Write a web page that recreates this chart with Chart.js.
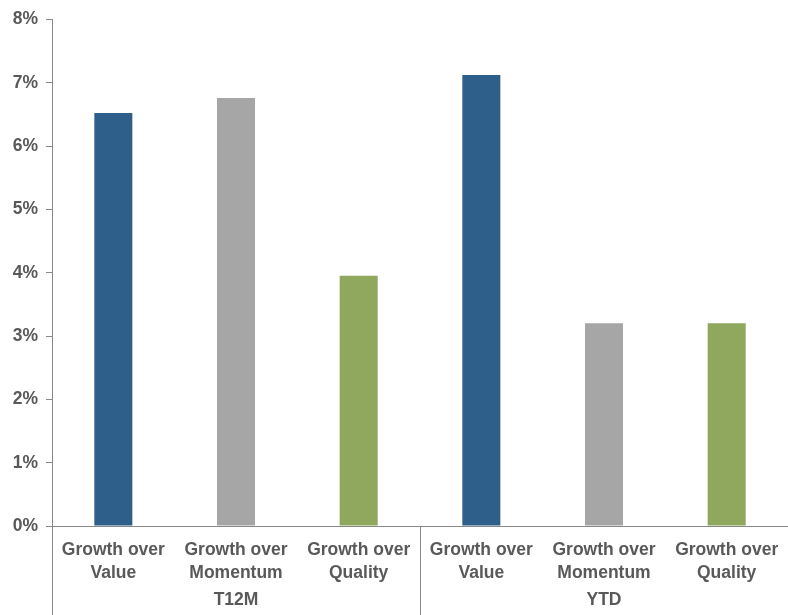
<!DOCTYPE html>
<html>
<head>
<meta charset="utf-8">
<script src="https://cdn.jsdelivr.net/npm/chart.js@4"></script>
<style>
  html, body { margin: 0; padding: 0; background: #fff; }
  #wrap { width: 788px; height: 615px; position: relative; }
</style>
</head>
<body>
<div id="wrap"><canvas id="chart"></canvas></div>
<script>
const categories = [
  ["Growth over", "Value"], ["Growth over", "Momentum"], ["Growth over", "Quality"],
  ["Growth over", "Value"], ["Growth over", "Momentum"], ["Growth over", "Quality"]
];
const groups = ["T12M", "YTD"];
const values = [6.52, 6.76, 3.95, 7.12, 3.2, 3.2]; // percent
const barColors = ["#2E5F8A", "#A6A6A6", "#8FA85E", "#2E5F8A", "#A6A6A6", "#8FA85E"];

const axisColor = "#898989";
const textColor = "#595959";
const font = { family: "'Liberation Sans', Arial, sans-serif", size: 17.5, weight: "bold", lineHeight: 1.3 };

// group labels + separator lines under the x axis
const groupPlugin = {
  id: "groups",
  afterDraw(chart) {
    const ctx = chart.ctx;
    const x = chart.scales.x;
    const area = chart.chartArea;
    const per = categories.length / groups.length;
    ctx.save();
    ctx.strokeStyle = axisColor;
    ctx.lineWidth = 1;
    ctx.fillStyle = textColor;
    ctx.font = "bold 17.5px 'Liberation Sans', Arial, sans-serif";
    ctx.textAlign = "center";
    ctx.textBaseline = "middle";
    const step = x.getPixelForValue(1) - x.getPixelForValue(0);
    for (let g = 0; g < groups.length; g++) {
      const idx = g * per;
      const px = Math.round(x.getPixelForValue(idx) - step / 2) + 0.5;
      ctx.beginPath();
      ctx.moveTo(px, area.bottom);
      ctx.lineTo(px, chart.height);
      ctx.stroke();
      const cx = (x.getPixelForValue(idx) + x.getPixelForValue(idx + per - 1)) / 2;
      ctx.fillText(groups[g], cx, 600);
    }
    ctx.restore();
  }
};

new Chart(document.getElementById("chart"), {
  type: "bar",
  data: {
    labels: categories,
    datasets: [{
      data: values,
      backgroundColor: barColors,
      borderWidth: 0,
      categoryPercentage: 1,
      barPercentage: 0.31
    }]
  },
  options: {
    responsive: true,
    maintainAspectRatio: false,
    animation: false,
    layout: { padding: { top: 17, right: 0, left: 0, bottom: 0 } },
    plugins: { legend: { display: false }, tooltip: { enabled: false } },
    scales: {
      x: {
        grid: { display: false },
        border: { color: axisColor, width: 1 },
        ticks: { color: textColor, font: font, maxRotation: 0, autoSkip: false, padding: 5 },
        afterFit(scale) { scale.height = 89; }
      },
      y: {
        min: 0,
        max: 8,
        grid: { drawOnChartArea: false, color: axisColor, tickLength: 6 },
        border: { color: axisColor, width: 1 },
        ticks: {
          stepSize: 1,
          color: textColor,
          font: font,
          padding: 8,
          callback: (v) => v + "%"
        },
        afterFit(scale) { scale.width = 52; }
      }
    }
  },
  plugins: [groupPlugin]
});
</script>
</body>
</html>
